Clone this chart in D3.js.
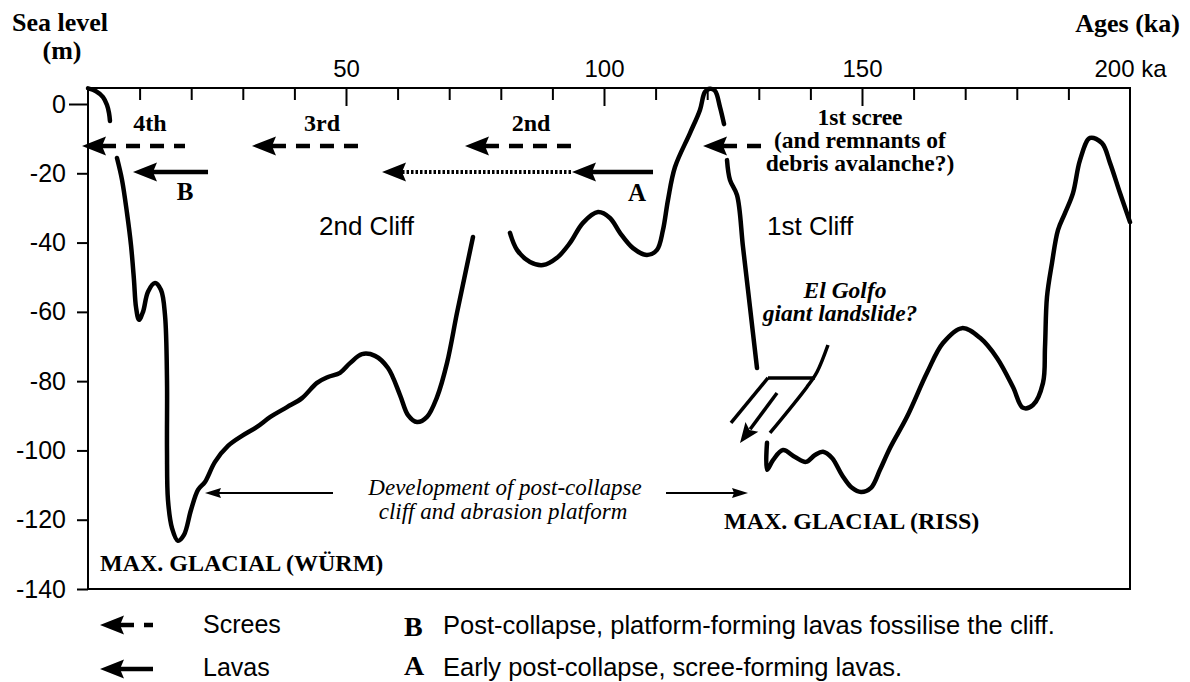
<!DOCTYPE html>
<html><head><meta charset="utf-8">
<script src="https://cdn.jsdelivr.net/npm/d3@7"></script>
<style>
body{margin:0;background:#fff}
svg{display:block}
.serif{font-family:"Liberation Serif","Times New Roman",serif}
.sans{font-family:"Liberation Sans",Arial,sans-serif}
</style></head><body>
<svg id="chart" width="1190" height="682"></svg>
<script>
// ---- sea-level curve, drawn as separate strokes (age in ka, level in m) ----
const seg1Age   = [0, 1.55, 2.91, 3.68, 4.07, 4.26];
const seg1Level = [4.5, 3.7, 2.0, -0.3, -2.6, -4.9];

const seg2Age   = [5.62, 6.59, 7.56, 8.33, 8.91, 9.30, 9.88, 10.66, 11.63, 12.98, 14.15, 14.92, 15.31, 15.31, 15.50,
                   16.28, 17.44, 18.60, 19.96, 21.32, 22.67, 24.61, 27.13, 29.84, 32.75, 35.27, 38.57, 41.47, 44.38,
                   46.51, 48.84, 50.78, 53.10, 55.62, 58.14, 60.47, 62.02, 63.76, 65.70, 67.64, 69.57, 71.51, 73.26, 74.61];
const seg2Level = [-15.6, -21.9, -31.5, -40.7, -50.8, -58.6, -62.3, -60.0, -54.2, -51.7, -53.7, -60.9, -79.7, -99.9, -114.3,
                   -122.4, -126.1, -124.4, -117.2, -111.4, -109.1, -103.3, -98.7, -95.8, -93.2, -90.4, -87.5, -84.9, -80.5,
                   -78.8, -77.6, -74.8, -72.2, -72.7, -76.2, -84.0, -89.8, -91.8, -90.3, -84.6, -74.8, -60.3, -47.9, -38.4];

const seg3Age   = [81.78, 83.14, 85.66, 88.18, 90.89, 93.41, 95.93, 98.84, 101.16, 103.10, 105.62, 108.33, 110.27,
                   111.43, 112.40, 113.76, 116.67, 118.60, 119.57, 120.54, 121.51, 122.48, 123.26];
const seg3Level = [-37.2, -42.1, -45.6, -46.5, -44.4, -40.1, -34.3, -31.2, -32.9, -37.2, -41.6, -43.6, -42.1,
                   -36.4, -27.7, -18.2, -8.4, -1.7, 3.5, 4.4, 3.8, -0.9, -5.8];

const seg4Age   = [123.84, 124.41, 125.78, 126.94, 128.29, 129.65];
const seg4Level = [-16.2, -21.9, -26.3, -41.3, -58.6, -76.2];

const seg5Age   = [131.59, 131.59, 132.75, 134.69, 137.02, 139.15, 140.89, 142.44, 144.19, 146.12, 148.06, 149.81,
                   151.74, 153.49, 155.43, 158.72, 162.60, 165.70, 169.38, 172.87, 176.16, 179.26, 181.20, 183.14,
                   185.08, 185.47, 185.85, 186.82, 187.98, 189.34, 190.89, 192.25, 194.19, 196.51, 198.06, 200.0, 201.94];
const seg5Level = [-97.8, -105.6, -102.8, -99.9, -101.9, -103.3, -101.3, -100.4, -102.2, -107.1, -110.8, -112.0,
                   -110.8, -105.6, -99.3, -90.3, -77.6, -69.0, -64.7, -67.5, -73.3, -81.7, -87.7, -86.9,
                   -80.5, -70.1, -55.7, -45.9, -36.4, -31.5, -25.7, -16.2, -9.8, -11.3, -17.0, -25.7, -34.1];

// ---- axes ----
const yTicks       = [0, -20, -40, -60, -80, -100, -120, -140];
const xLabelTicks  = [50, 100, 150, 200];
const xMinorTicks  = [10, 20, 30, 40, 60, 70, 80, 90, 110, 120, 130, 140, 160, 170, 180, 190];

// ---- arrows (age span in ka, level in m) ----
const screeLevel = -12.1;           // dashed scree arrows
const screeSpans = [[-1.16, 18.8], [31.78, 52.71], [73.06, 93.99], [119.19, 130.81]];
const screeNames = ["4th", "3rd", "2nd"];
const lavaLevel  = -19.6;           // lava arrows
const lavaB      = [8.72, 23.26];
const lavaDotted = [56.98, 93.8];
const lavaA      = [93.8, 109.5];
const cliffLevel = -112.3;          // cliff development arrows
const cliffLeft  = [22.67, 47.48];
const cliffRight = [127.91, 112.02];

// ---- landslide sketch ----
const slideTopAge   = [131.78, 140.9];
const slideTopLevel = [-79.08, -79.08];
const slideLeftAge   = [131.78, 124.61];
const slideLeftLevel = [-79.08, -92.07];
const slideRightAge   = [143.41, 141.28, 139.34, 132.17];
const slideRightLevel = [-69.56, -77.35, -81.68, -94.96];
const slideArrowAge   = [133.53, 126.36];
const slideArrowLevel = [-83.41, -97.84];

const svg = d3.select("#chart");
const x = d3.scaleLinear().domain([0, 201.94]).range([88, 1130]);
const y = d3.scaleLinear().domain([-140, 4.62]).range([589, 88]);

const zip = (a, b) => a.map((v, i) => [v, b[i]]);
const line = d3.line().x(d => x(d[0])).y(d => y(d[1])).curve(d3.curveCatmullRom.alpha(0.5));
const straight = d3.line().x(d => x(d[0])).y(d => y(d[1]));

// frame
svg.append("rect").attr("x", x(0)).attr("y", y(4.62))
  .attr("width", x(201.94) - x(0)).attr("height", y(-140) - y(4.62))
  .attr("fill", "none").attr("stroke", "#000").attr("stroke-width", 2);

// top age axis
const ageTicks = svg.append("g").attr("transform", `translate(0,${y(4.62)})`);
ageTicks.call(d3.axisTop(x).tickValues(xMinorTicks).tickSize(-12).tickFormat(""));
const ageMajor = svg.append("g").attr("transform", `translate(0,${y(4.62)})`);
ageMajor.call(d3.axisTop(x).tickValues([50, 100, 150]).tickSize(-18).tickFormat(""));
const ageLabels = svg.append("g").attr("transform", `translate(0,${y(4.62)})`);
ageLabels.call(d3.axisTop(x).tickValues(xLabelTicks).tickSize(0).tickPadding(11)
  .tickFormat(d => d === 200 ? "200 ka" : String(d)));
ageLabels.selectAll(".tick text").filter(d => d === 200).attr("text-anchor", "start").attr("dx", -26);
[ageTicks, ageMajor, ageLabels].forEach(g => g.select(".domain").remove());
svg.selectAll(".tick line").attr("stroke", "#000").attr("stroke-width", 2);
ageLabels.selectAll(".tick text").attr("class", "sans").attr("font-size", 24).attr("fill", "#000");

// left sea-level axis
const levelAxis = svg.append("g").attr("transform", `translate(${x(0)},0)`)
  .call(d3.axisLeft(y).tickValues(yTicks).tickSize(11).tickPadding(11).tickFormat(d => String(d)));
levelAxis.select(".domain").remove();
levelAxis.selectAll(".tick line").attr("stroke", "#000").attr("stroke-width", 2)
  .filter(d => d === 0).attr("x2", -19);
levelAxis.selectAll(".tick text").attr("class", "sans").attr("font-size", 25).attr("fill", "#000");

// sea-level curve
[[seg1Age, seg1Level], [seg2Age, seg2Level], [seg3Age, seg3Level], [seg4Age, seg4Level], [seg5Age, seg5Level]]
  .forEach(([a, l]) => {
    svg.append("path").attr("d", line(zip(a, l)))
      .attr("fill", "none").attr("stroke", "#000").attr("stroke-width", 4.5)
      .attr("stroke-linecap", "round").attr("stroke-linejoin", "round");
  });

// horizontal arrow with a notched head at the tip
function hArrow(g, tipX, tailX, cy, opt) {
  const dir = Math.sign(tailX - tipX) || 1;
  const L = opt.len, H = opt.half, N = opt.notch;
  g.append("path")
    .attr("d", `M${tipX},${cy} L${tipX + dir * L},${cy - H} L${tipX + dir * (L - N)},${cy} L${tipX + dir * L},${cy + H} Z`)
    .attr("fill", "#000");
  const ln = g.append("line").attr("x1", tipX + dir * (L - N)).attr("x2", tailX)
    .attr("y1", cy).attr("y2", cy).attr("stroke", "#000").attr("stroke-width", opt.width);
  if (opt.dash) ln.attr("stroke-dasharray", opt.dash);
}
const bigHead = {len: 24, half: 9.5, notch: 4, width: 4.5};

const ann = svg.append("g");
screeSpans.forEach(s => hArrow(ann, x(s[0]), x(s[1]), y(screeLevel), {...bigHead, dash: "14 10"}));
hArrow(ann, x(lavaB[0]), x(lavaB[1]), y(lavaLevel), bigHead);
hArrow(ann, x(lavaDotted[0]), x(lavaDotted[1]), y(lavaLevel), {...bigHead, width: 4, dash: "2.5 2"});
hArrow(ann, x(lavaA[0]), x(lavaA[1]), y(lavaLevel), bigHead);
const thinHead = {len: 16, half: 5, notch: 2, width: 2};
hArrow(ann, x(cliffLeft[0]), x(cliffLeft[1]), y(cliffLevel), thinHead);
hArrow(ann, x(cliffRight[0]), x(cliffRight[1]), y(cliffLevel), thinHead);

// landslide sketch
const slide = svg.append("g").attr("fill", "none").attr("stroke", "#000").attr("stroke-width", 3.5);
slide.append("path").attr("d", straight(zip(slideTopAge, slideTopLevel)));
slide.append("path").attr("d", straight(zip(slideLeftAge, slideLeftLevel)));
slide.append("path").attr("d", line(zip(slideRightAge, slideRightLevel)));
{
  const x1 = x(slideArrowAge[0]), y1 = y(slideArrowLevel[0]);
  const x2 = x(slideArrowAge[1]), y2 = y(slideArrowLevel[1]);
  const ang = Math.atan2(y2 - y1, x2 - x1);
  const L = 20, H = 8;
  const bx = x2 - L * Math.cos(ang), by = y2 - L * Math.sin(ang);
  slide.append("line").attr("x1", x1).attr("y1", y1).attr("x2", bx + 3 * Math.cos(ang)).attr("y2", by + 3 * Math.sin(ang));
  const px = -Math.sin(ang), py = Math.cos(ang);
  svg.append("path").attr("d",
    `M${x2},${y2} L${bx + H * px},${by + H * py} L${bx + 4 * Math.cos(ang)},${by + 4 * Math.sin(ang)} L${bx - H * px},${by - H * py} Z`)
    .attr("fill", "#000");
}

// text helper
function txt(tx, ty, str, cls, size, opts = {}) {
  const t = svg.append("text").attr("x", tx).attr("y", ty).attr("class", cls)
    .attr("font-size", size).attr("fill", "#000").text(str);
  if (opts.bold) t.attr("font-weight", "bold");
  if (opts.italic) t.attr("font-style", "italic");
  if (opts.anchor) t.attr("text-anchor", opts.anchor);
  return t;
}
const B = {bold: true};

txt(12, 31, "Sea level", "serif", 26, B);
txt(62, 59, "(m)", "serif", 26, {bold: true, anchor: "middle"});
txt(1180, 32, "Ages (ka)", "serif", 26, {bold: true, anchor: "end"});

const screeLabelX = [150, 322, 531];
screeNames.forEach((n, i) => txt(screeLabelX[i], 131, n, "serif", 24, {bold: true, anchor: "middle"}));
txt(860, 125, "1st scree", "serif", 23.5, {bold: true, anchor: "middle"});
txt(860, 148, "(and remnants of", "serif", 23.5, {bold: true, anchor: "middle"});
txt(860, 171, "debris avalanche?)", "serif", 23.5, {bold: true, anchor: "middle"});
txt(185, 200, "B", "serif", 25, {bold: true, anchor: "middle"});
txt(637, 201, "A", "serif", 25, {bold: true, anchor: "middle"});

txt(319, 235, "2nd Cliff", "sans", 26);
txt(767, 235, "1st Cliff", "sans", 26);

txt(845, 298, "El Golfo", "serif", 23.5, {bold: true, italic: true, anchor: "middle"});
txt(840, 321, "giant landslide?", "serif", 23.5, {bold: true, italic: true, anchor: "middle"});

txt(505, 495, "Development of post-collapse", "serif", 23, {italic: true, anchor: "middle"});
txt(503, 519, "cliff and abrasion platform", "serif", 23, {italic: true, anchor: "middle"});

txt(100, 571, "MAX. GLACIAL (WÜRM)", "serif", 24, B);
txt(724, 529, "MAX. GLACIAL (RISS)", "serif", 24, B);

// legend
const leg = svg.append("g");
hArrow(leg, 100, 153, 625, {...bigHead, dash: "14 10"});
hArrow(leg, 100, 153, 669, bigHead);
txt(203, 633, "Screes", "sans", 25);
txt(203, 676, "Lavas", "sans", 25);
txt(404, 636, "B", "serif", 28, B);
txt(404, 675, "A", "serif", 28, B);
txt(443, 634, "Post-collapse, platform-forming lavas fossilise the cliff.", "sans", 25.5);
txt(443, 676, "Early post-collapse, scree-forming lavas.", "sans", 25.5);
</script>
</body></html>
